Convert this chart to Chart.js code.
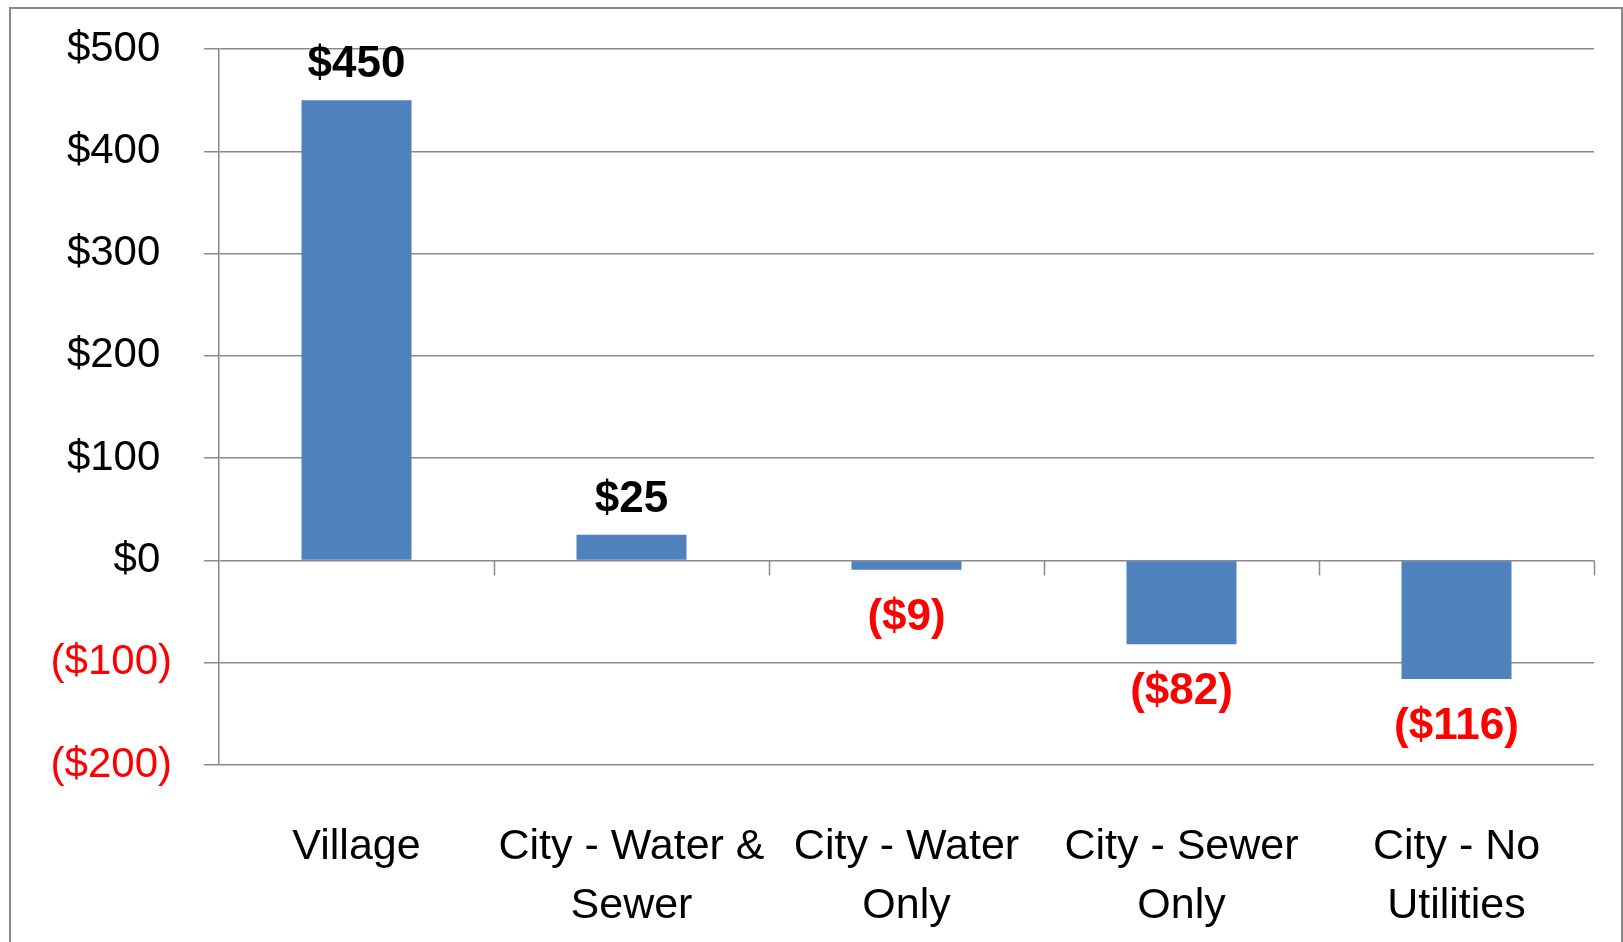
<!DOCTYPE html>
<html>
<head>
<meta charset="utf-8">
<script src="https://cdn.jsdelivr.net/npm/chart.js@4/dist/chart.umd.min.js"></script>
<style>
html,body{margin:0;padding:0;background:#fff;}
canvas{display:block;}
</style>
</head>
<body>
<canvas id="c" width="1623" height="942"></canvas>
<script>
const categories = [
  "Village",
  ["City - Water &", "Sewer"],
  ["City - Water", "Only"],
  ["City - Sewer", "Only"],
  ["City - No", "Utilities"]
];
const values = [450, 25, -9, -82, -116];
const yTicks = [500, 400, 300, 200, 100, 0, -100, -200];

const FONT = "'Liberation Sans', Arial, sans-serif";
const GRAY = "#8a8a8a";

function money(v) {
  return v < 0 ? "($" + Math.abs(v) + ")" : "$" + v;
}

const framePlugin = {
  id: "frame",
  beforeDraw(chart) {
    const ctx = chart.ctx;
    ctx.save();
    ctx.fillStyle = "#fff";
    ctx.fillRect(0, 0, chart.width, chart.height);
    ctx.strokeStyle = GRAY;
    ctx.lineWidth = 2;
    ctx.strokeRect(10, 8, 1612, 1000);
    ctx.restore();
  }
};

const zeroTicksPlugin = {
  id: "zeroTicks",
  afterDraw(chart) {
    const ctx = chart.ctx;
    const x = chart.scales.x, y = chart.scales.y;
    const y0 = y.getPixelForValue(0);
    const n = categories.length;
    const w = (x.right - x.left) / n;
    ctx.save();
    ctx.strokeStyle = GRAY;
    ctx.lineWidth = 1.5;
    ctx.beginPath();
    for (let i = 1; i <= n; i++) {
      const px = Math.round(x.left + i * w) + 0.5;
      ctx.moveTo(px, y0);
      ctx.lineTo(px, y0 + 15);
    }
    ctx.stroke();
    ctx.restore();
  }
};

const labelPlugin = {
  id: "valueLabels",
  afterDatasetsDraw(chart) {
    const ctx = chart.ctx;
    const meta = chart.getDatasetMeta(0);
    ctx.save();
    ctx.font = "bold 44px " + FONT;
    ctx.textAlign = "center";
    ctx.textBaseline = "middle";
    meta.data.forEach((bar, i) => {
      const v = values[i];
      if (v >= 0) {
        ctx.fillStyle = "#000";
        ctx.fillText(money(v), bar.x, bar.y - 35);
      } else {
        ctx.fillStyle = "#ff0000";
        ctx.fillText(money(v), bar.x, bar.y + 48);
      }
    });
    ctx.restore();
  }
};

new Chart(document.getElementById("c"), {
  type: "bar",
  data: {
    labels: categories,
    datasets: [{
      data: values,
      backgroundColor: "#4f81bd",
      borderWidth: 0,
      categoryPercentage: 1.0,
      barPercentage: 0.4
    }]
  },
  options: {
    responsive: false,
    animation: false,
    devicePixelRatio: 1,
    layout: { padding: { left: 0, top: 49, right: 29, bottom: 0 } },
    plugins: {
      legend: { display: false },
      tooltip: { enabled: false }
    },
    scales: {
      y: {
        min: -200,
        max: 500,
        afterFit(scale) {
          scale.width = 219;
          scale.paddingTop = 0;
          scale.paddingBottom = 0;
        },
        afterBuildTicks(scale) { scale.ticks = yTicks.map(v => ({ value: v })); },
        ticks: {
          font: { family: FONT, size: 42 },
          color: (c) => (c.tick && c.tick.value < 0) ? "#ff0000" : "#000",
          padding: 32,
          callback: (v) => v < 0 ? money(v) : money(v) + "\u00a0"
        },
        grid: {
          color: GRAY,
          lineWidth: 1.5,
          tickLength: 15,
          drawTicks: true
        },
        border: { display: true, color: GRAY, width: 1.5 }
      },
      x: {
        afterFit(scale) {
          scale.height = 177;
          scale.paddingLeft = 0;
          scale.paddingRight = 0;
        },
        ticks: {
          font: { family: FONT, size: 43, lineHeight: 1.36 },
          color: "#000",
          padding: 53,
          maxRotation: 0,
          autoSkip: false
        },
        grid: { display: false, drawTicks: false },
        border: { display: false }
      }
    }
  },
  plugins: [framePlugin, zeroTicksPlugin, labelPlugin]
});
</script>
</body>
</html>
